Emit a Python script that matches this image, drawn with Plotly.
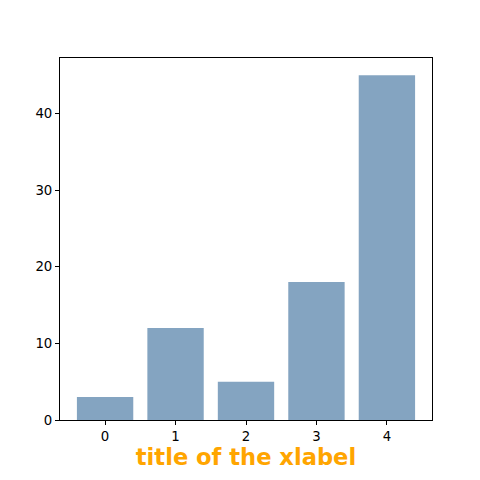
import plotly.graph_objects as go

categories = [0, 1, 2, 3, 4]
values = [3, 12, 5, 18, 45]
y_ticks = [0, 10, 20, 30, 40]

fig = go.Figure()

fig.add_trace(go.Bar(
    x=categories,
    y=values,
    width=0.8,
    marker=dict(color='rgb(132,164,193)', line=dict(width=0)),
    showlegend=False
))

axis_style = dict(
    showgrid=False,
    zeroline=False,
    showline=True,
    linecolor='black',
    linewidth=1,
    mirror=True,
    ticks='outside',
    ticklen=4,
    tickwidth=1,
    tickcolor='black',
    tickfont=dict(family='DejaVu Sans', size=13.3, color='black'),
)

fig.update_xaxes(
    range=[-0.64, 4.64],
    tickvals=categories,
    title=dict(
        text='<b>title of the xlabel</b>',
        font=dict(family='DejaVu Sans', size=22.6, color='orange'),
        standoff=6
    ),
    **axis_style
)
fig.update_yaxes(
    range=[0, 47.25],
    tickvals=y_ticks,
    **axis_style
)

# page body has an 8px offset, so margins are shifted to compensate
fig.update_layout(
    width=480,
    height=480,
    margin=dict(l=52, r=56, t=50, b=68, autoexpand=False),
    plot_bgcolor='white',
    paper_bgcolor='white',
    bargap=0.2,
)

fig.write_html("out.html")
